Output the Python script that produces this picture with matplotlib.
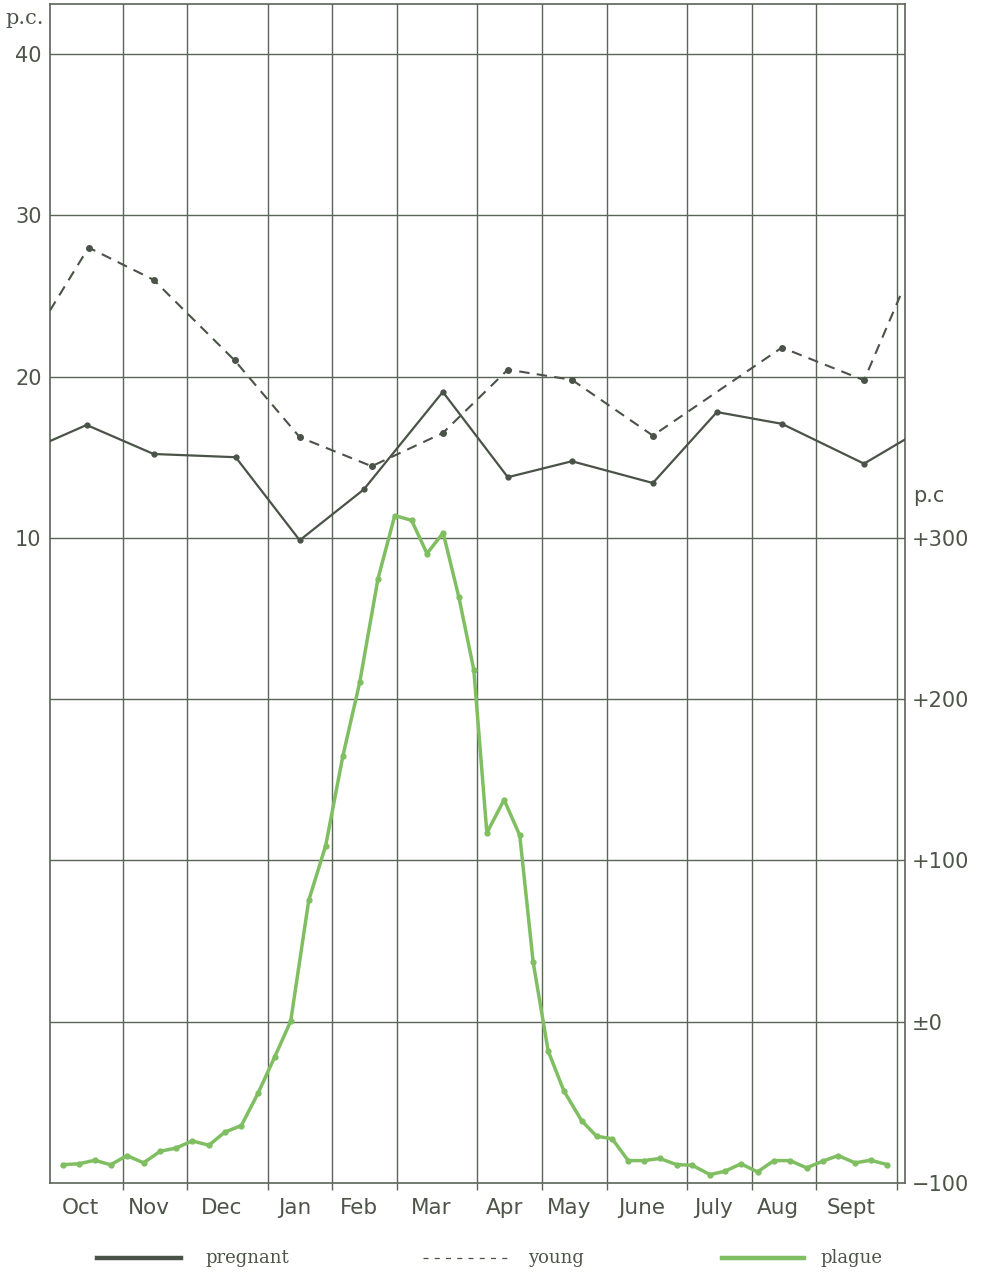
import matplotlib
matplotlib.use("Agg")
import matplotlib.pyplot as plt
from matplotlib.lines import Line2D
from matplotlib import transforms

# ---------------- data ----------------
months = ["Oct", "Nov", "Dec", "Jan", "Feb", "Mar", "Apr", "May", "June", "July", "Aug", "Sept"]
# month boundaries in weeks
month_bounds = [0, 4.5, 8.5, 13.5, 17.5, 21.5, 26.5, 30.5, 34.5, 39.5, 43.5, 47.5, 52.5]

left_ticks = [10, 20, 30, 40]
left_grid = [-20, -10, 0, 10, 20, 30, 40]
right_ticks = [-100, 0, 100, 200, 300]
right_labels = ["\u2212100", "\u00b10", "+100", "+200", "+300"]

# pregnant (p.c., left axis)
preg_x = [0, 2.27, 6.42, 11.51, 15.48, 19.45, 24.35, 28.38, 32.35, 37.37, 41.34, 45.37, 50.46, 53]
preg_y = [16.0, 17.0, 15.2, 15.0, 9.85, 13.0, 19.05, 13.76, 14.75, 13.4, 17.8, 17.07, 14.6, 16.1]

# young (p.c., left axis)
young_x = [0, 2.39, 6.42, 11.45, 15.48, 19.94, 24.35, 28.38, 32.35, 37.37, 45.37, 50.46, 52.7]
young_y = [24.1, 28.0, 26.0, 21.0, 16.24, 14.44, 16.5, 20.43, 19.8, 16.34, 21.8, 19.77, 25.0]

# plague (p.c. deviation, right axis), weekly
plague_x = [0.80, 1.79, 2.77, 3.76, 4.77, 5.80, 6.84, 7.79, 8.82, 9.85,
            10.83, 11.86, 12.89, 13.93, 14.92, 16.04, 17.09, 18.16, 19.20, 20.33,
            21.37, 22.41, 23.37, 24.37, 25.34, 26.27, 27.08, 28.15, 29.12, 29.95,
            30.88, 31.85, 32.95, 33.88, 34.85, 35.84, 36.83, 37.80, 38.84, 39.81,
            40.91, 41.84, 42.83, 43.86, 44.88, 45.87, 46.90, 47.89, 48.86, 49.90,
            50.87, 51.90]
plague_y = [-88.6, -88.1, -85.9, -88.7, -83.0, -87.5, -80.3, -78.4, -73.9, -76.6,
            -68.5, -64.4, -44.5, -21.8, 0.3, 75.3, 109.2, 165.0, 210.5, 274.6,
            313.8, 310.9, 290.3, 303.1, 263.4, 218.3, 117.1, 137.6, 115.5, 36.9,
            -18.1, -42.8, -61.3, -71.0, -72.6, -86.1, -86.1, -84.8, -88.6, -89.0,
            -94.8, -92.7, -88.1, -93.1, -86.1, -86.1, -90.6, -86.5, -83.0, -87.5,
            -85.9, -88.6]

# ---------------- style ----------------
GRID = "#5b6557"
DARK = "#4a5347"
TEXT = "#4d5549"
GREEN = "#80be62"

W, H = 990, 1274
fig = plt.figure(figsize=(W / 100, H / 100), dpi=100)
fig.patch.set_facecolor("white")

ax = fig.add_axes([50 / W, 91 / H, 855 / W, 1179 / H])
ax.set_xlim(0, 53)
ylo, yhi = -30, 43.1
ax.set_ylim(ylo, yhi)

for s in ax.spines.values():
    s.set_color(GRID)
    s.set_linewidth(1.2)

# grid
for g in left_grid:
    ax.axhline(g, color=GRID, lw=1.0, zorder=1)
for b in month_bounds[1:]:
    ax.axvline(b, color=GRID, lw=1.0, zorder=1)

ax.set_xticks(month_bounds[1:])
ax.set_xticklabels([])
ax.tick_params(axis="x", direction="out", length=5, width=1.0, color=GRID)

ax.set_yticks(left_ticks)
ax.set_yticklabels([str(t) for t in left_ticks], fontsize=15, color=TEXT)
ax.tick_params(axis="y", length=0, pad=6)

# month labels
trans = transforms.blended_transform_factory(ax.transData, ax.transAxes)
for i, m in enumerate(months):
    c = (month_bounds[i] + month_bounds[i + 1]) / 2 - 0.35
    ax.text(c, -0.021, m, transform=trans, ha="center", va="center",
            fontsize=15.5, color=TEXT)

# p.c. label top left
ax.text(-0.052, 0.988, "p.c.", transform=ax.transAxes, ha="left", va="center",
        fontsize=15, color=TEXT, family="DejaVu Serif")

# pregnant
ax.plot(preg_x, preg_y, color=DARK, lw=1.6, zorder=4)
ax.plot(preg_x[1:-1], preg_y[1:-1], ls="none", marker="o", ms=3.5, color=DARK, zorder=4)
# young
ax.plot(young_x, young_y, color=DARK, lw=1.5, ls=(0, (5, 3.5)), zorder=4)
ax.plot(young_x[1:-1], young_y[1:-1], ls="none", marker="o", ms=4, color=DARK, zorder=4)

# right axis
ax2 = ax.twinx()
ax2.set_ylim(200 + 10 * ylo, 200 + 10 * yhi)
for s in ax2.spines.values():
    s.set_visible(False)
ax2.set_yticks(right_ticks)
ax2.set_yticklabels(right_labels, fontsize=15, color=TEXT)
ax2.tick_params(axis="y", length=0, pad=5)
ax2.plot(plague_x, plague_y, color=GREEN, lw=2.5, marker="o", ms=3.5, zorder=5)

trans2 = transforms.blended_transform_factory(ax2.transAxes, ax2.transData)
ax2.text(1.009, 326, "p.c", transform=trans2, ha="left", va="center",
         fontsize=15, color=TEXT)

# legend
ly = (H - 1258) / H
fig.add_artist(Line2D([97 / W, 181 / W], [ly, ly], color=DARK, lw=3.2))
fig.text(205 / W, ly, "pregnant", ha="left", va="center", fontsize=13,
         color=TEXT, family="DejaVu Serif")
fig.add_artist(Line2D([423 / W, 508 / W], [ly, ly], color=DARK, lw=0.9,
                      ls=(0, (4, 5))))
fig.text(528 / W, ly, "young", ha="left", va="center", fontsize=13,
         color=TEXT, family="DejaVu Serif")
fig.add_artist(Line2D([722 / W, 804 / W], [ly, ly], color=GREEN, lw=3.2))
fig.text(820 / W, ly, "plague", ha="left", va="center", fontsize=13,
         color=TEXT, family="DejaVu Serif")

fig.savefig("out.png", dpi=100, facecolor="white")
